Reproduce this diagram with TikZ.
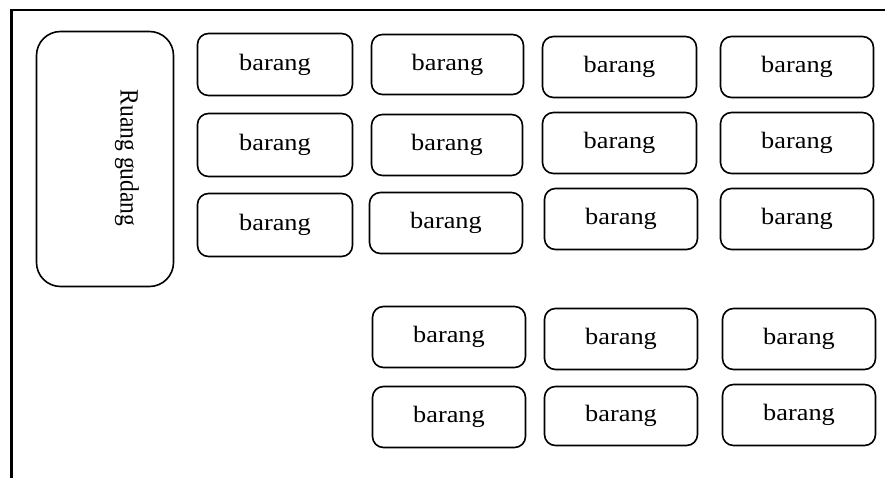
\documentclass[tikz,border=0pt]{standalone}
\usepackage{fontspec}
\setmainfont{Liberation Serif}
\usepackage{graphicx}
\newcommand{\brg}{\scalebox{1.12}[1]{barang}}
\begin{document}
\begin{tikzpicture}[x=1pt,y=-1pt,
  item/.style={draw, line width=1.6pt, rounded corners=11pt, inner sep=0pt,
    font=\fontsize{23.5pt}{26pt}\selectfont},
  room/.style={draw, line width=1.6pt, rounded corners=24pt, inner sep=0pt},
  roomtext/.style={rotate=-90, inner sep=0pt, font=\fontsize{23.5pt}{26pt}\selectfont},
  frameline/.style={line width=2.4pt}]
\useasboundingbox (0,0) rectangle (885,478);
\coordinate (fb) at (11.5,478);
\coordinate (fc) at (11.5,10);
\coordinate (fr) at (885,10);
\draw[frameline] (fb) -- (fc) -- (fr);
\node[room, minimum width=137pt, minimum height=255pt] (ruang) at (105,159) {};
\node[roomtext] (ruangtext) at (127,158) {\scalebox{1}[1.12]{Ruang gudang}};
% column 1
\node[item, minimum width=155pt, minimum height=62pt] (c1r1) at (275,64.5) {\brg};
\node[item, minimum width=155pt, minimum height=63pt] (c1r2) at (275,145) {\brg};
\node[item, minimum width=155pt, minimum height=63pt] (c1r3) at (275,225) {\brg};
% column 2
\node[item, minimum width=152pt, minimum height=60pt] (c2r1) at (447.5,64.5) {\brg};
\node[item, minimum width=151pt, minimum height=61pt] (c2r2) at (447,145) {\brg};
\node[item, minimum width=153pt, minimum height=61pt] (c2r3) at (446,223) {\brg};
\node[item, minimum width=153pt, minimum height=61pt] (c2r4) at (449,337) {\brg};
\node[item, minimum width=153pt, minimum height=61pt] (c2r5) at (449,417) {\brg};
% column 3
\node[item, minimum width=154pt, minimum height=61pt] (c3r1) at (619.5,67) {\brg};
\node[item, minimum width=154pt, minimum height=61pt] (c3r2) at (619.5,143) {\brg};
\node[item, minimum width=153pt, minimum height=61pt] (c3r3) at (621,219) {\brg};
\node[item, minimum width=153pt, minimum height=61pt] (c3r4) at (621,339) {\brg};
\node[item, minimum width=153pt, minimum height=59pt] (c3r5) at (621,416) {\brg};
% column 4
\node[item, minimum width=153pt, minimum height=61pt] (c4r1) at (797,67) {\brg};
\node[item, minimum width=153pt, minimum height=61pt] (c4r2) at (797,143) {\brg};
\node[item, minimum width=153pt, minimum height=61pt] (c4r3) at (797,219) {\brg};
\node[item, minimum width=153pt, minimum height=61pt] (c4r4) at (799,339) {\brg};
\node[item, minimum width=153pt, minimum height=61pt] (c4r5) at (799,415) {\brg};
\end{tikzpicture}
\end{document}
